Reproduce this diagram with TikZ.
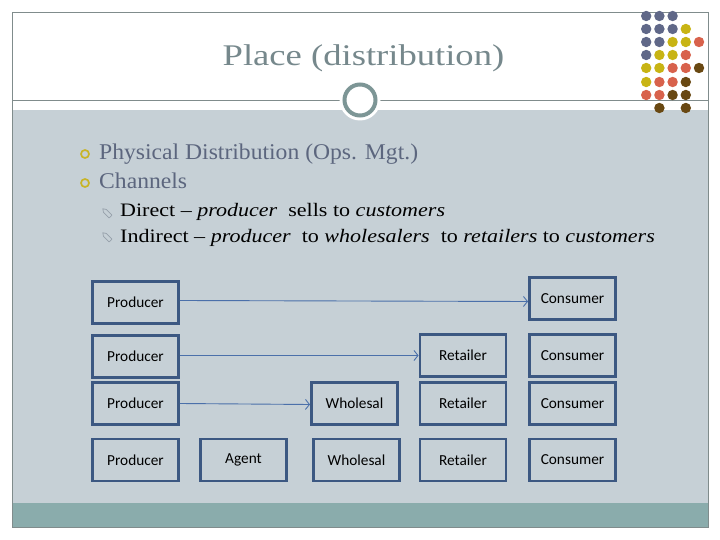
\documentclass[tikz,border=0pt]{standalone}
\usepackage{fontspec}
\setmainfont{Liberation Serif}
\newfontfamily\boxfont{Carlito}
\newfontfamily\titlefont[FakeStretch=1.22,Ligatures=TeX]{Liberation Serif}
\newfontfamily\mainfont[FakeStretch=1.05,Ligatures=TeX]{Liberation Serif}
\newfontfamily\subfont[FakeStretch=1.16,Ligatures=TeX]{Liberation Serif}
\usetikzlibrary{arrows.meta}
\definecolor{bodygray}{RGB}{198,208,214}
\definecolor{footteal}{RGB}{138,172,172}
\definecolor{framegray}{RGB}{128,140,140}
\definecolor{ringgray}{RGB}{125,150,150}
\definecolor{titlegray}{RGB}{118,136,140}
\definecolor{textgray}{RGB}{92,102,126}
\definecolor{boxblue}{RGB}{60,88,130}
\definecolor{arrowblue}{RGB}{75,112,170}
\definecolor{bulletyellow}{RGB}{200,180,40}
\definecolor{pencilgray}{RGB}{150,160,170}
\definecolor{dotgray}{RGB}{96,104,136}
\definecolor{dotyellow}{RGB}{200,180,20}
\definecolor{dotred}{RGB}{216,98,76}
\definecolor{dotbrown}{RGB}{105,72,18}
\tikzset{
  chbox/.style={draw=boxblue, line width=2.9pt, minimum width=86pt, minimum height=42pt, inner sep=0pt, font=\boxfont\fontsize{15.3}{18}\selectfont, text=black},
  flow/.style={draw=arrowblue, line width=0.9pt, -{Straight Barb[length=4pt,width=10pt]}},
  mainbul/.style={draw=bulletyellow, line width=1.7pt},
  maintext/.style={anchor=base west, inner sep=0pt, text=textgray, font=\mainfont\fontsize{22.5}{26}\selectfont},
  subtext/.style={anchor=base west, inner sep=0pt, text=black, font=\subfont\fontsize{19}{22}\selectfont},
  pencil/.style={draw=pencilgray, line width=0.7pt, line join=round}
}
\newcommand{\pencilat}[2]{%
  \begin{scope}[shift={(#1,#2)}, rotate=-45]
    \draw[pencil] (-3,-2) -- (5,-2) -- (5,2) -- (-3,2) -- (-6,0) -- cycle;
  \end{scope}}
\begin{document}
\begin{tikzpicture}[x=1pt,y=-1pt]
\useasboundingbox (0,0) rectangle (720,540);
\fill[white] (0,0) rectangle (720,540);
\fill[bodygray] (12,110) rectangle (708,503);
\fill[footteal] (12,503) rectangle (708,527);
\draw[framegray, line width=0.9pt] (12,12) rectangle (708,527);
\draw[framegray, line width=0.9pt] (12,100) -- (708,100);
% ring
\fill[white] (360,100) circle (20.5);
\draw[ringgray, line width=4pt] (360,100) circle (15.5);
% dots
\foreach \r/\list in {
  16/{1/dotgray,2/dotgray,3/dotgray},
  29/{1/dotgray,2/dotgray,3/dotgray,4/dotyellow},
  42/{1/dotgray,2/dotgray,3/dotyellow,4/dotyellow,5/dotred},
  55/{1/dotgray,2/dotyellow,3/dotyellow,4/dotred},
  68/{1/dotyellow,2/dotyellow,3/dotred,4/dotred,5/dotbrown},
  82/{1/dotyellow,2/dotred,3/dotred,4/dotbrown},
  95/{1/dotred,2/dotred,3/dotbrown,4/dotbrown},
  108/{2/dotbrown,4/dotbrown}}{
  \foreach \c/\col in \list {
    \fill[\col] ({633+13.2*\c},\r) circle (5.2);
  }
}
% title
\node[text=titlegray, font=\titlefont\fontsize{30}{36}\selectfont, anchor=base] (title) at (363.5,66) {Place (distribution)};
% bullets
\draw[mainbul] (85,154) circle (4);
\node[maintext] (b1) at (99,160) {Physical Distribution (Ops. Mgt.)};
\draw[mainbul] (85,183) circle (4);
\node[maintext] (b2) at (99,189) {Channels};
\pencilat{107}{213}
\node[subtext] (s1) at (120,216.5) {Direct -- \textit{producer}\ \ sells to \textit{customers}};
\pencilat{107}{237}
\node[subtext] (s2) at (120,242) {Indirect -- \textit{producer}\ \ to \textit{wholesalers}\ \ to \textit{retailers} to \textit{customers}};
% boxes
\node[chbox] (p1) at (135.5,302.5) {Producer};
\node[chbox] (c1) at (572.5,298.5) {Consumer};
\node[chbox] (p2) at (135.5,356.5) {Producer};
\node[chbox] (r2) at (463,355.5) {Retailer};
\node[chbox] (c2) at (572.5,355.5) {Consumer};
\node[chbox] (p3) at (135.5,403.5) {Producer};
\node[chbox] (w3) at (354.5,403.5) {Wholesal};
\node[chbox] (r3) at (463,403.5) {Retailer};
\node[chbox] (c3) at (572.5,403.5) {Consumer};
\node[chbox] (p4) at (135.5,460) {Producer};
\node[chbox] (a4) at (243.5,460) {Agent};
\node[chbox] (w4) at (356.5,460) {Wholesal};
\node[chbox] (r4) at (463,460) {Retailer};
\node[chbox] (c4) at (572.5,460) {Consumer};
% arrows
\draw[flow] ([yshift=2pt]p1.east) -- ([yshift=-3pt]c1.west);
\draw[flow] ([yshift=1pt]p2.east) -- (r2.west);
\draw[flow] (p3.east) -- ([yshift=-1pt]w3.west);
\end{tikzpicture}
\end{document}
